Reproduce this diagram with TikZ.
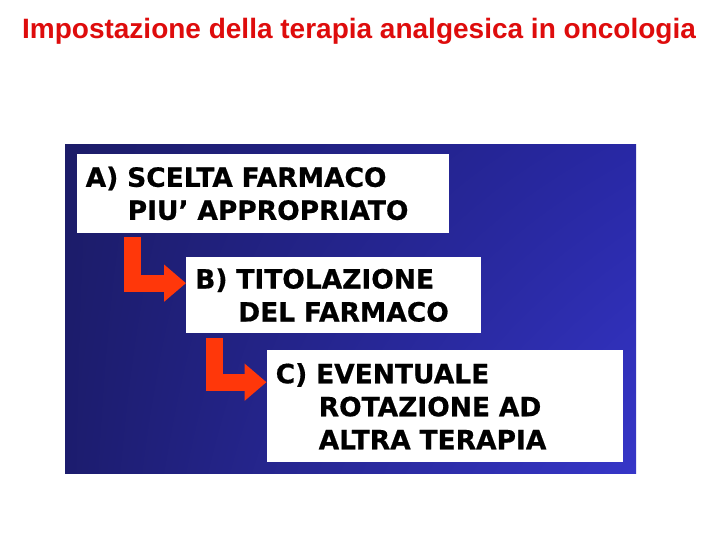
\documentclass[tikz,border=0pt]{standalone}
\usepackage{fontspec}
\setmainfont{DejaVu Sans}[BoldFeatures={FakeBold=0.6}]
\newfontfamily\titlefont{Liberation Sans}
\usetikzlibrary{arrows.meta,shadings}
\definecolor{titlered}{RGB}{222,12,12}
\definecolor{arrowred}{RGB}{255,55,10}
\definecolor{navyUL}{RGB}{28,28,104}
\definecolor{navyLL}{RGB}{28,28,110}
\definecolor{blueUR}{RGB}{40,40,165}
\definecolor{blueLR}{RGB}{54,54,200}
\begin{document}
\begin{tikzpicture}[x=1pt,y=-1pt,
  stepbox/.style={fill=white, anchor=north west, inner xsep=9pt, inner ysep=0pt,
    align=left, font=\fontsize{26.5}{33}\selectfont\bfseries, text=black},
  arr/.style={draw=arrowred, line width=17pt, -{Triangle[length=22pt,width=36pt]}}
]
\useasboundingbox (0,0) rectangle (720,540);
\fill[white] (0,0) rectangle (720,540);
\node[anchor=base, text=titlered, font=\titlefont\fontsize{28}{30}\selectfont\bfseries] (title) at (359,39)
  {Impostazione della terapia analgesica in oncologia};
\shade[upper left=navyUL, lower left=navyLL, upper right=blueUR, lower right=blueLR]
  (65,145) rectangle (636,473);
\node[stepbox, minimum width=372.5pt, minimum height=78.5pt, text width=354.5pt] (A) at (76.5,154)
  {A) SCELTA FARMACO\\\hspace*{42pt}PIU’ APPROPRIATO};
\node[stepbox, minimum width=295pt, minimum height=76.5pt, text width=277pt] (B) at (186,256.7)
  {B) TITOLAZIONE\\\hspace*{43pt}DEL FARMACO};
\node[stepbox, minimum width=356.5pt, minimum height=112pt, text width=338.5pt] (C) at (266.5,350)
  {C) EVENTUALE\\\hspace*{43pt}ROTAZIONE AD\\\hspace*{43pt}ALTRA TERAPIA};
\coordinate (a1) at (132.7,237);
\coordinate (a2) at (214.5,338);
\draw[arr] (a1) |- ([yshift=12pt]B.west);
\draw[arr] (a2) |- ([yshift=24pt]C.west);
\end{tikzpicture}
\end{document}
